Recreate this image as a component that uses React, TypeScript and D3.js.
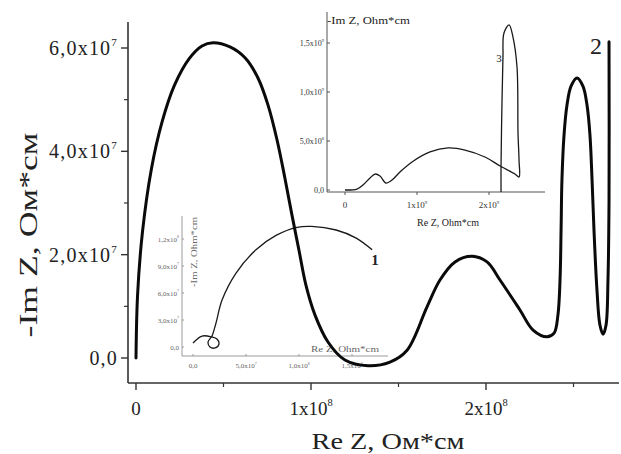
import React from "react";
import * as d3 from "d3";

// Curve 2 (main plot), Re Z and -Im Z in Ом*см
const curve2Re = [
  0, 0.009e8, 0.037e8, 0.088e8, 0.149e8, 0.22e8, 0.303e8, 0.377e8, 0.44e8, 0.537e8,
  0.623e8, 0.697e8, 0.754e8, 0.806e8, 0.851e8, 0.891e8, 0.931e8, 0.971e8, 1.023e8, 1.097e8,
  1.194e8, 1.326e8, 1.451e8, 1.549e8, 1.663e8, 1.737e8, 1.823e8, 1.92e8, 2.006e8, 2.08e8,
  2.194e8, 2.269e8, 2.349e8, 2.389e8, 2.411e8, 2.423e8, 2.429e8, 2.434e8, 2.446e8, 2.463e8,
  2.486e8, 2.52e8, 2.554e8, 2.577e8, 2.594e8, 2.606e8, 2.617e8, 2.634e8, 2.651e8, 2.669e8,
  2.686e8, 2.697e8, 2.703e8, 2.703e8,
];
const curve2Im = [
  0, 12.2e6, 24.4e6, 36.6e6, 45.7e6, 52.8e6, 57.9e6, 60.4e6, 61.0e6, 60.2e6,
  58.1e6, 54.2e6, 49.0e6, 42.2e6, 34.8e6, 27.7e6, 20.9e6, 14.1e6, 8.3e6, 3.1e6,
  -0.4e6, -1.5e6, -0.8e6, 1.5e6, 9.9e6, 15.1e6, 18.6e6, 19.7e6, 18.6e6, 15.1e6,
  9.3e6, 5.4e6, 4.1e6, 4.8e6, 8.3e6, 15.1e6, 24.8e6, 34.5e6, 43.2e6, 49.0e6,
  52.6e6, 54.2e6, 52.6e6, 49.0e6, 43.2e6, 34.5e6, 24.8e6, 13.2e6, 6.4e6, 4.6e6,
  6.4e6, 15.1e6, 30.6e6, 61.2e6,
];

// Curve 1 (lower inset)
const curve1Re = [
  0, 0.85e7, 1.79e7, 2.26e7, 2.45e7, 2.08e7, 1.6e7, 1.42e7, 1.79e7, 2.17e7,
  2.74e7, 4.06e7, 5.94e7, 7.83e7, 9.81e7, 11.2e7, 13.5e7, 15.4e7, 16.9e7,
];
const curve1Im = [
  0.44e7, 1.22e7, 1.11e7, 0.89e7, 0.33e7, -0.11e7, 0, 0.56e7, 1.22e7, 2.67e7,
  5.22e7, 8.22e7, 10.8e7, 12.4e7, 13.3e7, 13.4e7, 13.0e7, 12.1e7, 10.8e7,
];

// Curve 3 (upper inset)
const curve3Re = [
  0, 0.167e9, 0.25e9, 0.347e9, 0.417e9, 0.486e9, 0.569e9, 0.653e9, 0.764e9, 0.931e9,
  1.181e9, 1.431e9, 1.667e9, 1.944e9, 2.153e9, 2.361e9, 2.417e9, 2.417e9, 2.403e9, 2.389e9,
  2.333e9, 2.278e9, 2.208e9, 2.194e9, 2.181e9, 2.167e9, 2.167e9,
];
const curve3Im = [
  0, 0.01e9, 0.051e9, 0.122e9, 0.163e9, 0.143e9, 0.071e9, 0.102e9, 0.184e9, 0.286e9,
  0.388e9, 0.429e9, 0.408e9, 0.337e9, 0.245e9, 0.163e9, 0.133e9, 0.306e9, 0.582e9, 1.255e9,
  1.561e9, 1.684e9, 1.602e9, 1.357e9, 0.918e9, 0.235e9, -0.02e9,
];

const mainXTicks = [0, 1e8, 2e8];
const mainXTickLabels = ["0", "1x10^8", "2x10^8"];
const mainXMinor = [0.5e8, 1.5e8, 2.5e8];
const mainYTicks = [0, 2e7, 4e7, 6e7];
const mainYTickLabels = ["0,0", "2,0x10^7", "4,0x10^7", "6,0x10^7"];
const mainYMinor = [1e7, 3e7, 5e7];

const inset1XTicks = [0, 5e7, 1e8, 1.5e8];
const inset1XTickLabels = ["0,0", "5,0x10^7", "1,0x10^8", "1,5x10^8"];
const inset1YTicks = [0, 3e7, 6e7, 9e7, 1.2e8];
const inset1YTickLabels = ["0,0", "3,0x10^7", "6,0x10^7", "9,0x10^7", "1,2x10^8"];

const inset3XTicks = [0, 1e9, 2e9];
const inset3XTickLabels = ["0", "1x10^9", "2x10^9"];
const inset3YTicks = [0, 5e8, 1e9, 1.5e9];
const inset3YTickLabels = ["0,0", "5,0x10^8", "1,0x10^9", "1,5x10^9"];

const FONT = "'Liberation Serif', 'Times New Roman', serif";

type LabelProps = {
  text: string;
  x: number;
  y: number;
  size: number;
  anchor?: "start" | "middle" | "end";
  fill?: string;
  spacing?: number;
};

function PowLabel({ text, x, y, size, anchor = "middle", fill = "#222", spacing = 0 }: LabelProps) {
  const [base, exp] = text.split("^");
  return (
    <text x={x} y={y} fontSize={size} textAnchor={anchor} fill={fill} letterSpacing={spacing}>
      <tspan>{base}</tspan>
      {exp && (
        <tspan dy={-size * 0.45} fontSize={size * 0.55}>
          {exp}
        </tspan>
      )}
    </text>
  );
}

export default function App() {
  // main plot scales
  const xM = d3.scaleLinear().domain([0, 2e8]).range([136, 486]);
  const yM = d3.scaleLinear().domain([0, 6e7]).range([358, 48]);
  // lower inset scales
  const x1 = d3.scaleLinear().domain([0, 1.5e8]).range([193, 352]);
  const y1 = d3.scaleLinear().domain([0, 1.2e8]).range([347, 239]);
  // upper inset scales
  const x3 = d3.scaleLinear().domain([0, 2e9]).range([345, 489]);
  const y3 = d3.scaleLinear().domain([0, 1.5e9]).range([190, 43]);

  const mk = (xs: d3.ScaleLinear<number, number>, ys: d3.ScaleLinear<number, number>) =>
    d3
      .line<[number, number]>()
      .x((d) => xs(d[0]))
      .y((d) => ys(d[1]))
      .curve(d3.curveCatmullRom.alpha(0.5));

  const path2 = mk(xM, yM)(d3.zip(curve2Re, curve2Im) as [number, number][]) || "";
  const path1 = mk(x1, y1)(d3.zip(curve1Re, curve1Im) as [number, number][]) || "";
  const path3 = mk(x3, y3)(d3.zip(curve3Re, curve3Im) as [number, number][]) || "";

  const axisM = "#333";
  const axis1 = "#9a9a9a";
  const axis3 = "#555";

  const mainAxisY = 383;
  const mainAxisX = 128;
  const in1AxisX = 182;
  const in1AxisY = 356;
  const in3AxisX = 327;
  const in3AxisY = 192;

  return (
    <svg
      width={621}
      height={454}
      viewBox="0 0 621 454"
      style={{ position: "absolute", left: 0, top: 0, background: "#fff" }}
      fontFamily={FONT}
    >
      <rect width={621} height={454} fill="#fff" />

      {/* upper inset: curve 3 */}
      <g>
        <line x1={in3AxisX} y1={12} x2={in3AxisX} y2={in3AxisY} stroke={axis3} strokeWidth={1} />
        <line x1={in3AxisX} y1={in3AxisY} x2={545} y2={in3AxisY} stroke={axis3} strokeWidth={1} />
        {inset3YTicks.map((t, i) => (
          <g key={"i3y" + i}>
            <line x1={in3AxisX} x2={in3AxisX + 3} y1={y3(t)} y2={y3(t)} stroke={axis3} />
            <PowLabel text={inset3YTickLabels[i]} x={in3AxisX - 3} y={y3(t) + 3} size={8} anchor="end" fill="#333" />
          </g>
        ))}
        {inset3XTicks.map((t, i) => (
          <g key={"i3x" + i}>
            <line x1={x3(t)} x2={x3(t)} y1={in3AxisY} y2={in3AxisY + 3} stroke={axis3} />
            <PowLabel text={inset3XTickLabels[i]} x={x3(t)} y={208} size={9} fill="#333" />
          </g>
        ))}
        <text x={in3AxisX} y={24} fontSize={10} fill="#222" textLength={83} lengthAdjust="spacingAndGlyphs">
          -Im Z, Ohm*cm
        </text>
        <text x={448} y={226} fontSize={10} fill="#222" textAnchor="middle">
          Re Z, Ohm*cm
        </text>
        <path d={path3} fill="none" stroke="#1a1a1a" strokeWidth={1.3} />
        <text x={499} y={62} fontSize={11} fill="#222" textAnchor="middle">
          3
        </text>
      </g>

      {/* lower inset: curve 1 */}
      <g>
        <line x1={in1AxisX} y1={216} x2={in1AxisX} y2={in1AxisY} stroke={axis1} strokeWidth={1} />
        <line x1={in1AxisX} y1={in1AxisY} x2={388} y2={in1AxisY} stroke={axis1} strokeWidth={1} />
        {inset1YTicks.map((t, i) => (
          <g key={"i1y" + i}>
            <line x1={in1AxisX} x2={in1AxisX + 2} y1={y1(t)} y2={y1(t)} stroke={axis1} />
            <PowLabel text={inset1YTickLabels[i]} x={in1AxisX - 3} y={y1(t) + 2.5} size={7} anchor="end" fill="#666" />
          </g>
        ))}
        {inset1XTicks.map((t, i) => (
          <g key={"i1x" + i}>
            <line x1={x1(t)} x2={x1(t)} y1={in1AxisY} y2={in1AxisY - 2} stroke={axis1} />
            <PowLabel text={inset1XTickLabels[i]} x={x1(t)} y={368} size={7} fill="#666" />
          </g>
        ))}
        <text
          transform={`translate(197,252) rotate(-90)`}
          fontSize={7.5}
          fill="#666"
          textAnchor="middle"
          textLength={70}
          lengthAdjust="spacingAndGlyphs"
        >
          -Im Z, Ohm*cm
        </text>
        <text x={345} y={352} fontSize={7.5} fill="#666" textAnchor="middle" textLength={68} lengthAdjust="spacingAndGlyphs">
          Re Z, Ohm*cm
        </text>
        <path d={path1} fill="none" stroke="#1a1a1a" strokeWidth={1.3} />
        <text x={375} y={265} fontSize={15} fontWeight="bold" fill="#222" textAnchor="middle">
          1
        </text>
      </g>

      {/* main axes */}
      <g>
        <line x1={mainAxisX} y1={22} x2={mainAxisX} y2={mainAxisY} stroke={axisM} strokeWidth={1.6} />
        <line x1={mainAxisX} y1={mainAxisY} x2={619} y2={mainAxisY} stroke={axisM} strokeWidth={1.6} />
        {mainYTicks.map((t, i) => (
          <g key={"my" + i}>
            <line x1={mainAxisX - 7} x2={mainAxisX} y1={yM(t)} y2={yM(t)} stroke={axisM} strokeWidth={1.4} />
            <PowLabel text={mainYTickLabels[i]} x={118} y={yM(t) + 7} size={20} anchor="end" spacing={1.2} />
          </g>
        ))}
        {mainYMinor.map((t, i) => (
          <line key={"mym" + i} x1={mainAxisX - 4} x2={mainAxisX} y1={yM(t)} y2={yM(t)} stroke={axisM} strokeWidth={1.2} />
        ))}
        {mainXTicks.map((t, i) => (
          <g key={"mx" + i}>
            <line x1={xM(t)} x2={xM(t)} y1={mainAxisY} y2={mainAxisY + 7} stroke={axisM} strokeWidth={1.4} />
            <PowLabel text={mainXTickLabels[i]} x={xM(t)} y={415} size={19} />
          </g>
        ))}
        {mainXMinor.map((t, i) => (
          <line key={"mxm" + i} x1={xM(t)} x2={xM(t)} y1={mainAxisY} y2={mainAxisY + 4} stroke={axisM} strokeWidth={1.2} />
        ))}
        <text x={388} y={449} fontSize={24} fill="#222" textAnchor="middle" textLength={153} lengthAdjust="spacingAndGlyphs">
          Re Z, Ом*см
        </text>
        <text
          transform="translate(37,235) rotate(-90)"
          fontSize={26}
          fill="#222"
          textAnchor="middle"
          textLength={205}
          lengthAdjust="spacingAndGlyphs"
        >
          -Im Z, Ом*см
        </text>
      </g>

      {/* curve 2 */}
      <path d={path2} fill="none" stroke="#0a0a0a" strokeWidth={3} strokeLinejoin="round" strokeLinecap="round" />
      <text x={596} y={54} fontSize={24} fill="#222" textAnchor="middle">
        2
      </text>
    </svg>
  );
}
